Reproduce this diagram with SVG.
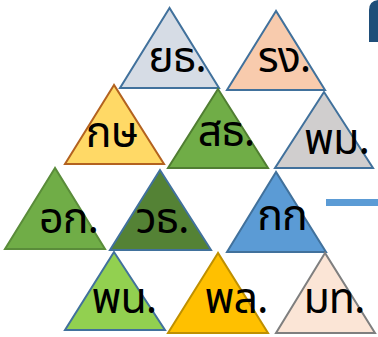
<svg xmlns="http://www.w3.org/2000/svg" width="378" height="337" viewBox="0 0 378 337">
<style>
.t{stroke-width:2;stroke-linejoin:miter}
.lb{font-family:"Noto Sans","Noto Sans Thai","DejaVu Sans",sans-serif;font-size:43px;fill:#000;text-anchor:middle;letter-spacing:-1px}
.bs{stroke:#41719C}
</style>
<rect width="378" height="337" fill="#fff"/>
<path d="M369,42 L369,10 Q369,1 378,0 L378,42 Z" fill="#1F4E79"/>
<rect x="326" y="199" width="52" height="7" fill="#5B9BD5"/>
<g id="n1"><polygon class="t bs" points="169.5,8 120,88 219,88" fill="#D6DCE5"/><text class="lb" x="177" y="72">ยธ.</text></g>
<g id="n2"><polygon class="t bs" points="276,11 227,90 325,90" fill="#F8CBAD"/><text class="lb" x="284" y="72">รง.</text></g>
<g id="n3"><polygon class="t" points="114,85 65,164 164,164" fill="#FFD966" stroke="#B3621F"/><text class="lb" x="111.5" y="147">กษ</text></g>
<g id="n4"><polygon class="t" points="218,89 168,168 268,168" fill="#70AD47" stroke="#507E32"/><text class="lb" x="226" y="146">สธ.</text></g>
<g id="n5"><polygon class="t bs" points="324,92 275,168 373,168" fill="#D0CECE"/><text class="lb" x="336.5" y="154">พม.</text></g>
<g id="n6"><polygon class="t" points="55,168 5,249 105,249" fill="#70AD47" stroke="#5A8C3A"/><text class="lb" x="68.5" y="233">อก.</text></g>
<g id="n7"><polygon class="t bs" points="160,170 110,250 211,250" fill="#548235"/><text class="lb" x="162" y="233">วธ.</text></g>
<g id="n8"><polygon class="t bs" points="276,172 227,252 326,252" fill="#5B9BD5"/><text class="lb" x="282" y="230">กก</text></g>
<g id="n9"><polygon class="t bs" points="114,252 65,330 165,330" fill="#92D050"/><text class="lb" x="124" y="313">พน.</text></g>
<g id="n10"><polygon class="t" points="218,253 168,333 268,333" fill="#FFC000" stroke="#BF9000"/><text class="lb" x="236" y="313">พล.</text></g>
<g id="n11"><polygon class="t" points="325,253 276,333 375,333" fill="#FBE5D6" stroke="#7F7F7F"/><text class="lb" x="334" y="313">มท.</text></g>
<g id="connectors"></g>
</svg>
